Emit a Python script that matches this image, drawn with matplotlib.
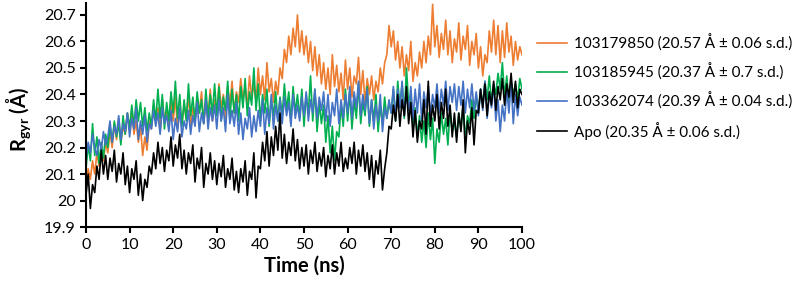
import matplotlib
matplotlib.use("Agg")
import matplotlib.pyplot as plt
import numpy as np

# time axis, ns (0.5 ns steps)
time_ns = np.arange(0, 100.5, 0.5)

rg_103179850 = [
    20.06, 20.12, 20.08, 20.15, 20.10, 20.18, 20.13, 20.20, 20.15, 20.22,
    20.18, 20.26, 20.20, 20.29, 20.23, 20.31, 20.22, 20.28, 20.25, 20.33,
    20.27, 20.34, 20.25, 20.30, 20.22, 20.28, 20.17, 20.24, 20.19, 20.30,
    20.27, 20.36, 20.29, 20.35, 20.26, 20.38, 20.30, 20.34, 20.28, 20.37,
    20.30, 20.39, 20.27, 20.34, 20.29, 20.36, 20.31, 20.40, 20.28, 20.35,
    20.30, 20.38, 20.33, 20.41, 20.29, 20.37, 20.32, 20.42, 20.30, 20.38,
    20.33, 20.44, 20.35, 20.40, 20.31, 20.43, 20.36, 20.45, 20.33, 20.41,
    20.37, 20.46, 20.38, 20.43, 20.35, 20.47, 20.39, 20.44, 20.37, 20.50,
    20.40, 20.47, 20.38, 20.52, 20.41, 20.46, 20.37, 20.45, 20.40, 20.50,
    20.46, 20.57, 20.52, 20.62, 20.55, 20.65, 20.58, 20.70, 20.56, 20.64,
    20.55, 20.62, 20.52, 20.60, 20.49, 20.58, 20.47, 20.55, 20.44, 20.52,
    20.42, 20.50, 20.40, 20.55, 20.43, 20.51, 20.41, 20.48, 20.38, 20.53,
    20.42, 20.50, 20.39, 20.47, 20.44, 20.54, 20.40, 20.49, 20.37, 20.46,
    20.40, 20.47, 20.38, 20.45, 20.41, 20.50, 20.44, 20.52, 20.55, 20.66,
    20.58, 20.64, 20.53, 20.60, 20.50, 20.58, 20.47, 20.55, 20.49, 20.60,
    20.45, 20.52, 20.47, 20.56, 20.50, 20.60, 20.52, 20.62, 20.55, 20.74,
    20.58, 20.66, 20.54, 20.63, 20.57, 20.68, 20.55, 20.64, 20.52, 20.61,
    20.56, 20.67, 20.53, 20.62, 20.57, 20.66, 20.51, 20.60, 20.55, 20.63,
    20.50, 20.58, 20.47, 20.55, 20.52, 20.64, 20.56, 20.68, 20.55, 20.66,
    20.52, 20.64, 20.54, 20.67, 20.56, 20.62, 20.51, 20.60, 20.53, 20.58,
    20.55,
]

rg_103185945 = [
    20.12, 20.21, 20.15, 20.29, 20.17, 20.24, 20.14, 20.22, 20.16, 20.25,
    20.20, 20.28, 20.22, 20.30, 20.24, 20.29, 20.21, 20.32, 20.25, 20.33,
    20.27, 20.36, 20.28, 20.38, 20.30, 20.37, 20.28, 20.35, 20.26, 20.33,
    20.28, 20.38, 20.30, 20.42, 20.31, 20.40, 20.27, 20.37, 20.30, 20.41,
    20.33, 20.45, 20.31, 20.40, 20.28, 20.38, 20.30, 20.44, 20.32, 20.39,
    20.30, 20.41, 20.33, 20.38, 20.29, 20.42, 20.31, 20.40, 20.33, 20.44,
    20.32, 20.43, 20.30, 20.39, 20.34, 20.45, 20.31, 20.42, 20.33, 20.40,
    20.30, 20.43, 20.35, 20.46, 20.32, 20.41, 20.36, 20.50, 20.34, 20.44,
    20.30, 20.40, 20.33, 20.42, 20.28, 20.38, 20.32, 20.41, 20.30, 20.39,
    20.32, 20.44, 20.34, 20.41, 20.30, 20.43, 20.33, 20.40, 20.31, 20.42,
    20.28, 20.40, 20.33, 20.47, 20.30, 20.42, 20.26, 20.37, 20.29, 20.36,
    20.22, 20.32, 20.18, 20.28, 20.15, 20.26, 20.24, 20.36, 20.28, 20.42,
    20.30, 20.41, 20.27, 20.38, 20.31, 20.44, 20.29, 20.37, 20.32, 20.43,
    20.28, 20.38, 20.30, 20.40, 20.26, 20.36, 20.29, 20.39, 20.31, 20.37,
    20.33, 20.42, 20.30, 20.45, 20.35, 20.44, 20.31, 20.50, 20.36, 20.40,
    20.28, 20.35, 20.24, 20.32, 20.22, 20.30, 20.20, 20.33, 20.23, 20.31,
    20.14, 20.27, 20.22, 20.33, 20.25, 20.31, 20.21, 20.34, 20.26, 20.30,
    20.24, 20.33, 20.27, 20.36, 20.23, 20.32, 20.29, 20.38, 20.31, 20.40,
    20.33, 20.42, 20.36, 20.45, 20.38, 20.47, 20.37, 20.44, 20.40, 20.48,
    20.42, 20.52, 20.39, 20.47, 20.37, 20.45, 20.40, 20.44, 20.38, 20.46,
    20.42,
]

rg_103362074 = [
    20.16, 20.22, 20.18, 20.25, 20.20, 20.17, 20.23, 20.19, 20.26, 20.21,
    20.24, 20.30, 20.22, 20.28, 20.25, 20.32, 20.23, 20.29, 20.26, 20.33,
    20.24, 20.31, 20.27, 20.35, 20.23, 20.30, 20.25, 20.32, 20.22, 20.29,
    20.27, 20.34, 20.28, 20.33, 20.25, 20.35, 20.29, 20.32, 20.26, 20.34,
    20.23, 20.31, 20.26, 20.35, 20.24, 20.30, 20.27, 20.34, 20.25, 20.32,
    20.28, 20.37, 20.26, 20.33, 20.29, 20.38, 20.27, 20.35, 20.30, 20.36,
    20.27, 20.38, 20.30, 20.35, 20.26, 20.40, 20.29, 20.34, 20.28, 20.37,
    20.25, 20.33, 20.23, 20.31, 20.27, 20.35, 20.24, 20.32, 20.26, 20.34,
    20.28, 20.38, 20.25, 20.35, 20.29, 20.40, 20.27, 20.36, 20.30, 20.38,
    20.29, 20.39, 20.32, 20.37, 20.28, 20.40, 20.31, 20.36, 20.30, 20.39,
    20.32, 20.41, 20.30, 20.38, 20.33, 20.42, 20.31, 20.39, 20.34, 20.41,
    20.30, 20.40, 20.28, 20.37, 20.32, 20.42, 20.29, 20.38, 20.31, 20.40,
    20.33, 20.43, 20.31, 20.41, 20.35, 20.45, 20.32, 20.40, 20.34, 20.42,
    20.29, 20.38, 20.27, 20.36, 20.30, 20.40, 20.26, 20.35, 20.31, 20.38,
    20.33, 20.43, 20.31, 20.42, 20.35, 20.45, 20.32, 20.40, 20.34, 20.43,
    20.31, 20.42, 20.33, 20.44, 20.30, 20.41, 20.35, 20.43, 20.32, 20.40,
    20.35, 20.44, 20.33, 20.42, 20.36, 20.45, 20.34, 20.43, 20.37, 20.44,
    20.34, 20.43, 20.36, 20.45, 20.33, 20.42, 20.35, 20.44, 20.34, 20.41,
    20.32, 20.42, 20.34, 20.45, 20.31, 20.40, 20.35, 20.44, 20.30, 20.38,
    20.26, 20.36, 20.30, 20.42, 20.33, 20.45, 20.29, 20.40, 20.32, 20.39,
    20.36,
]

rg_apo = [
    20.02, 20.10, 19.97, 20.06, 20.03, 20.13, 20.08, 20.19, 20.10, 20.17,
    20.08, 20.16, 20.11, 20.19, 20.07, 20.14, 20.10, 20.18, 20.06, 20.13,
    20.03, 20.12, 20.08, 20.15, 20.02, 20.10, 20.00, 20.08, 20.05, 20.13,
    20.10, 20.18, 20.12, 20.22, 20.14, 20.20, 20.11, 20.19, 20.15, 20.24,
    20.13, 20.21, 20.16, 20.25, 20.12, 20.19, 20.10, 20.18, 20.14, 20.21,
    20.07, 20.16, 20.12, 20.20, 20.05, 20.14, 20.10, 20.18, 20.08, 20.15,
    20.06, 20.14, 20.09, 20.17, 20.05, 20.12, 20.08, 20.16, 20.04, 20.11,
    20.03, 20.12, 20.07, 20.15, 20.02, 20.11, 20.08, 20.18, 20.01, 20.13,
    20.12, 20.22, 20.15, 20.26, 20.13, 20.24, 20.17, 20.28, 20.19, 20.33,
    20.16, 20.25, 20.14, 20.22, 20.17, 20.27, 20.15, 20.23, 20.12, 20.20,
    20.13, 20.21, 20.10, 20.19, 20.14, 20.22, 20.11, 20.18, 20.13, 20.20,
    20.09, 20.17, 20.12, 20.21, 20.10, 20.18, 20.13, 20.22, 20.11, 20.16,
    20.12, 20.20, 20.14, 20.22, 20.10, 20.19, 20.13, 20.21, 20.11, 20.18,
    20.08, 20.17, 20.05, 20.15, 20.10, 20.19, 20.04, 20.12, 20.18, 20.28,
    20.27, 20.36, 20.30, 20.40, 20.28, 20.38, 20.32, 20.43, 20.29, 20.37,
    20.24, 20.34, 20.22, 20.30, 20.27, 20.38, 20.25, 20.45, 20.28, 20.36,
    20.30, 20.40, 20.27, 20.37, 20.31, 20.42, 20.28, 20.36, 20.24, 20.33,
    20.22, 20.33, 20.26, 20.38, 20.18, 20.30, 20.25, 20.35, 20.21, 20.34,
    20.33, 20.42, 20.35, 20.44, 20.32, 20.41, 20.36, 20.45, 20.34, 20.43,
    20.38, 20.46, 20.36, 20.44, 20.39, 20.48, 20.37, 20.45, 20.35, 20.42,
    20.40,
]

labels = [
    "103179850 (20.57 Å ± 0.06 s.d.)",
    "103185945 (20.37 Å ± 0.7 s.d.)",
    "103362074 (20.39 Å ± 0.04 s.d.)",
    "Apo (20.35 Å ± 0.06 s.d.)",
]
colors = ["#ED7D31", "#00B050", "#4472C4", "#000000"]
series = [rg_103179850, rg_103185945, rg_103362074, rg_apo]

plt.rcParams["font.family"] = ["Lato", "DejaVu Sans"]
plt.rcParams["mathtext.fontset"] = "custom"
plt.rcParams["mathtext.rm"] = "Lato"
plt.rcParams["mathtext.bf"] = "Lato:bold"

fig = plt.figure(figsize=(8, 2.86), dpi=100)
ax = fig.add_axes([0.1075, 0.206, 0.545, 0.7835])

for vals, col, lab in zip(series, colors, labels):
    ax.plot(time_ns, vals, color=col, linewidth=1.2, label=lab)

ax.set_xlim(0, 100)
ax.set_ylim(19.9, 20.745)
ax.set_xticks(np.arange(0, 101, 10))
ax.set_yticks([19.9, 20.0, 20.1, 20.2, 20.3, 20.4, 20.5, 20.6, 20.7])
ax.set_yticklabels(["19.9", "20", "20.1", "20.2", "20.3", "20.4", "20.5", "20.6", "20.7"])

for side in ["top", "right"]:
    ax.spines[side].set_visible(False)
for side in ["left", "bottom"]:
    ax.spines[side].set_linewidth(1.5)
ax.tick_params(direction="out", length=4.5, width=1.5, labelsize=11.5, pad=3)

ax.set_xlabel("Time (ns)", fontsize=14.5, fontweight="bold", labelpad=3)
ax.set_ylabel(r"R$_{\mathbf{gyr}}$ (Å)", fontsize=14.5, fontweight="bold")
ax.yaxis.set_label_coords(-0.122, 0.48)

fig.legend(loc="upper left", bbox_to_anchor=(0.671, 0.88), frameon=False,
           fontsize=11, handlelength=2.0, handletextpad=0.45,
           labelspacing=0.78, borderpad=0, borderaxespad=0)

fig.savefig("out.png", dpi=100, facecolor="white")
